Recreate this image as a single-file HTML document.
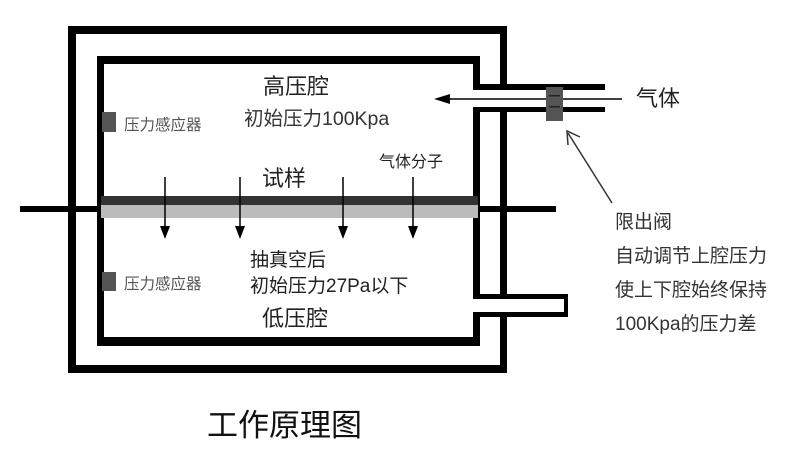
<!DOCTYPE html>
<html><head><meta charset="utf-8"><style>
html,body{margin:0;padding:0;background:#fff}
svg{display:block}
text{font-family:"Liberation Sans","Noto Sans CJK SC",sans-serif}
</style></head><body>
<svg width="800" height="461" viewBox="0 0 800 461" xmlns="http://www.w3.org/2000/svg">
<rect width="800" height="461" fill="#fff"/>
<g fill="#000">
<rect x="68" y="26" width="439" height="8"/>
<rect x="68" y="26" width="8" height="347"/>
<rect x="68" y="365" width="439" height="8"/>
<rect x="500" y="26" width="7" height="62"/>
<rect x="97" y="56" width="383" height="8"/>
<rect x="97" y="56" width="7" height="290"/>
<rect x="97" y="337" width="383" height="9"/>
<rect x="473" y="56" width="7" height="32"/>
<rect x="473" y="84" width="132" height="6"/>
<rect x="473" y="107" width="132" height="5"/>
<rect x="473" y="107" width="7" height="191"/>
<rect x="500" y="107" width="7" height="191"/>
<rect x="473" y="294" width="95" height="5"/>
<rect x="564" y="294" width="4" height="22"/>
<rect x="473" y="312" width="95" height="5"/>
<rect x="473" y="312" width="7" height="32"/>
<rect x="500" y="312" width="7" height="60"/>
<rect x="20" y="206" width="84" height="6"/>
<rect x="473" y="206" width="83" height="6"/>
</g>
<rect x="76" y="200" width="21" height="6" fill="#fff"/>
<rect x="76" y="212" width="21" height="6" fill="#fff"/>
<rect x="68" y="200" width="8" height="18" fill="#000"/>
<rect x="101" y="196" width="377" height="9" fill="#333"/>
<rect x="101" y="205" width="377" height="13" fill="#bbb"/>
<g stroke="#000" stroke-width="1.5">
<line x1="165" y1="177" x2="165" y2="230"/>
<line x1="240" y1="177" x2="240" y2="230"/>
<line x1="343" y1="177" x2="343" y2="230"/>
<line x1="413" y1="177" x2="413" y2="230"/>
</g>
<g fill="#000">
<polygon points="160,226 170,226 165,239"/>
<polygon points="235,226 245,226 240,239"/>
<polygon points="338,226 348,226 343,239"/>
<polygon points="408,226 418,226 413,239"/>
</g>
<line x1="448" y1="99" x2="622" y2="99" stroke="#000" stroke-width="1.5"/>
<polygon points="434,99 450,94 450,104" fill="#000"/>
<rect x="546" y="87" width="17" height="34" fill="#555"/>
<rect x="549" y="95" width="11" height="1.5" fill="#222"/>
<rect x="549" y="106" width="11" height="1.5" fill="#222"/>
<line x1="612" y1="203" x2="568" y2="133" stroke="#333" stroke-width="1.5"/>
<polyline points="568,145 567,131 580,137" fill="none" stroke="#333" stroke-width="1.5"/>
<rect x="102" y="112" width="14" height="20" fill="#555"/>
<rect x="102" y="272" width="14" height="19" fill="#555"/>
<g fill="#222">
<text x="263" y="94" font-size="22">高压腔</text>
<text x="244" y="125" font-size="19.5" fill="#333">初始压力100Kpa</text>
<text x="124" y="130" font-size="15.5" fill="#555">压力感应器</text>
<text x="124" y="289" font-size="15.5" fill="#555">压力感应器</text>
<text x="262" y="186" font-size="22">试样</text>
<text x="379" y="167" font-size="16">气体分子</text>
<text x="250" y="266" font-size="19">抽真空后</text>
<text x="250" y="292" font-size="19">初始压力27Pa以下</text>
<text x="262" y="326" font-size="22">低压腔</text>
<text x="636" y="106" font-size="22">气体</text>
<g font-size="19" fill="#333">
<text x="615" y="228">限出阀</text>
<text x="615" y="262">自动调节上腔压力</text>
<text x="615" y="296">使上下腔始终保持</text>
<text x="615" y="330">100Kpa的压力差</text>
</g>
<text x="207" y="436" font-size="31" fill="#111">工作原理图</text>
</g>
</svg>
</body></html>
